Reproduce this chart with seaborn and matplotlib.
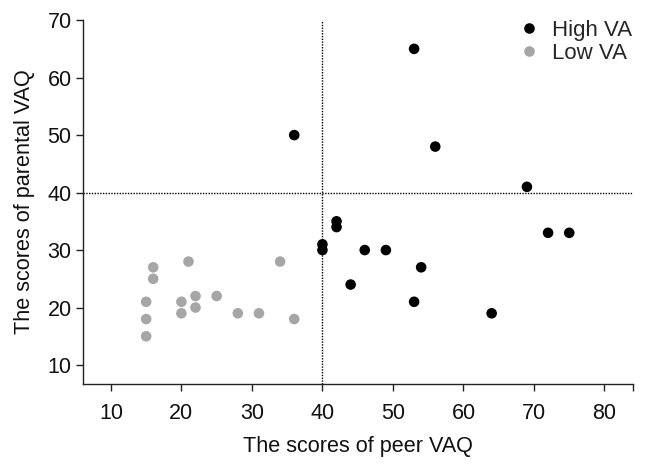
import pandas as pd
import matplotlib.pyplot as plt
import seaborn as sns

# High VA group (peer VAQ, parental VAQ)
high_peer = [36, 40, 40, 42, 42, 44, 46, 49, 53, 53, 54, 56, 64, 69, 72, 75]
high_parent = [50, 31, 30, 35, 34, 24, 30, 30, 65, 21, 27, 48, 19, 41, 33, 33]

# Low VA group
low_peer = [15, 15, 15, 16, 16, 20, 20, 21, 22, 22, 25, 28, 31, 34, 36]
low_parent = [21, 18, 15, 27, 25, 21, 19, 28, 22, 20, 22, 19, 19, 28, 18]

groups = ["High VA", "Low VA"]
x_ticks = [10, 20, 30, 40, 50, 60, 70, 80]
y_ticks = [10, 20, 30, 40, 50, 60, 70]
cutoff = 40

df = pd.DataFrame({
    "peer": high_peer + low_peer,
    "parent": high_parent + low_parent,
    "group": [groups[0]] * len(high_peer) + [groups[1]] * len(low_peer),
})

sns.set_style("ticks")
plt.rcParams['font.family'] = ['Liberation Sans', 'DejaVu Sans']

fig = plt.figure(figsize=(6.46, 4.68), dpi=100)
ax = fig.add_axes([0.128, 0.1795, 0.8514, 0.7775])

# dotted cut-off lines
ax.axvline(cutoff, color="black", linestyle=(0, (1, 1)), linewidth=1, zorder=1)
ax.axhline(cutoff, color="black", linestyle=(0, (1, 1)), linewidth=1, zorder=1)

sns.scatterplot(data=df, x="peer", y="parent", hue="group", hue_order=groups,
                palette={"High VA": "black", "Low VA": "#a6a6a6"},
                s=58, linewidth=0, ax=ax, zorder=3)

ax.set_xlim(6, 84)
ax.set_ylim(6.7, 70)
ax.set_xticks(x_ticks + [84])
ax.set_xticklabels([str(t) for t in x_ticks] + [""])
ax.set_yticks(y_ticks)
ax.tick_params(axis="both", direction="out", length=5, width=1, color="#222222",
               labelsize=15.5, labelcolor="#111111")
ax.tick_params(axis="x", pad=9)
ax.tick_params(axis="y", pad=3)
for side in ["left", "bottom"]:
    ax.spines[side].set_color("#222222")
    ax.spines[side].set_linewidth(1)
sns.despine(ax=ax)

ax.set_xlabel("The scores of peer VAQ", fontsize=15.6, color="#111111", labelpad=8)
ax.set_ylabel("The scores of parental VAQ", fontsize=15.6, color="#111111", labelpad=9)

leg = ax.legend(loc="upper right", frameon=False, fontsize=16, handletextpad=0.05,
                borderaxespad=0.0, labelspacing=0.1, markerscale=1.0,
                bbox_to_anchor=(1.015, 1.025))

fig.savefig("out.png", dpi=100)
